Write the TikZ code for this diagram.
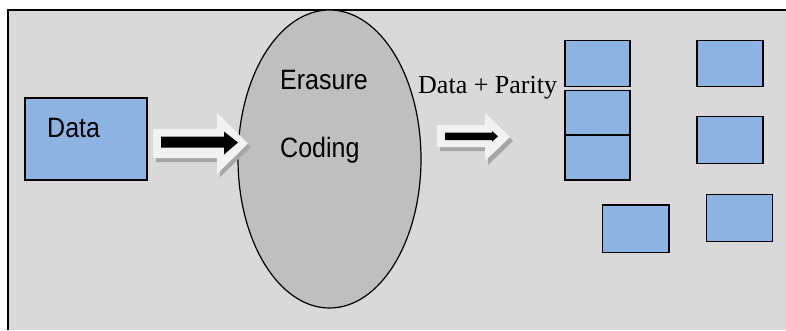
\documentclass[tikz,border=0pt]{standalone}
\usepackage{fontspec}
\usepackage{graphicx}
\newfontfamily\sansf{Liberation Sans}
\newfontfamily\serf{Liberation Serif}
\usetikzlibrary{shapes.geometric}
\definecolor{bgray}{HTML}{D9D9D9}
\definecolor{egray}{HTML}{BFBFBF}
\definecolor{boxblue}{HTML}{8DB3E2}
\definecolor{arrwhite}{HTML}{F2F2F2}
\definecolor{shgray}{HTML}{A6A6A6}
\newcommand{\tallsans}[1]{\scalebox{1}[1.12]{#1}}
\tikzset{
  blockbox/.style={draw=black, line width=1.3pt, fill=boxblue, rectangle, inner sep=0pt},
  sanslabel/.style={inner sep=0pt, anchor=base west, font=\sansf\fontsize{25}{30}\selectfont},
  seriflabel/.style={inner sep=0pt, anchor=base west, font=\serf\fontsize{26}{30}\selectfont},
  arrbody/.style={fill=arrwhite, draw=none},
  arrshadow/.style={fill=shgray, draw=none},
  arrinner/.style={fill=black, draw=none}
}
\begin{document}
\begin{tikzpicture}[x=1pt, y=-1pt]
\useasboundingbox (0,0) rectangle (786,330);
% background panel
\fill[bgray] (8,10) rectangle (786,330);
\draw[line width=1.6pt] (8,330) -- (8,10) -- (786,10);
% Data box
\node[blockbox, minimum width=122pt, minimum height=82pt] (data) at (86,139) {};
\node[sanslabel] (datalbl) at (47,137) {\tallsans{Data}};
% ellipse
\node[ellipse, draw=black, line width=1.2pt, fill=egray, minimum width=183pt, minimum height=298pt, inner sep=0pt] (ec) at (329.5,159) {};
\node[sanslabel] (erasure) at (280,89) {\tallsans{Erasure}};
\node[sanslabel] (coding) at (280,157) {\tallsans{Coding}};
% arrow 1
\fill[arrshadow] (156,133) -- (220,133) -- (220,117) -- (251,147) -- (220,177) -- (220,162) -- (156,162) -- cycle;
\fill[arrbody] (153,129) -- (217,129) -- (217,113) -- (248,143.5) -- (217,174) -- (217,158) -- (153,158) -- cycle;
\fill[arrinner] (161,136.5) -- (224,136.5) -- (224,131.5) -- (238,142.5) -- (224,154.5) -- (224,147.5) -- (161,147.5) -- cycle;
% label
\node[seriflabel] (dp) at (418,93) {Data + Parity};
% arrow 2
\fill[arrshadow] (440,129) -- (488,129) -- (488,117) -- (513,141) -- (488,165) -- (488,151) -- (440,151) -- cycle;
\fill[arrbody] (437,125) -- (485,125) -- (485,113) -- (510,137) -- (485,161) -- (485,147) -- (437,147) -- cycle;
\fill[arrinner] (445,132.7) -- (492,132.7) -- (492,131) -- (498,136.4) -- (492,141.7) -- (492,140) -- (445,140) -- cycle;
% fragments
\node[blockbox, minimum width=65pt, minimum height=46pt] (fa) at (597.5,63.7) {};
\node[blockbox, minimum width=65pt, minimum height=44.5pt] (fb) at (597.5,112.9) {};
\node[blockbox, minimum width=65pt, minimum height=45pt] (fc) at (597.5,157.5) {};
\node[blockbox, minimum width=66pt, minimum height=46pt] (fd) at (730,63.7) {};
\node[blockbox, minimum width=66pt, minimum height=46.6pt] (fe) at (730,140) {};
\node[blockbox, minimum width=65.6pt, minimum height=46.6pt] (ff) at (739.5,218) {};
\node[blockbox, minimum width=66.7pt, minimum height=47.3pt] (fg) at (635.7,228.7) {};
\end{tikzpicture}
\end{document}
